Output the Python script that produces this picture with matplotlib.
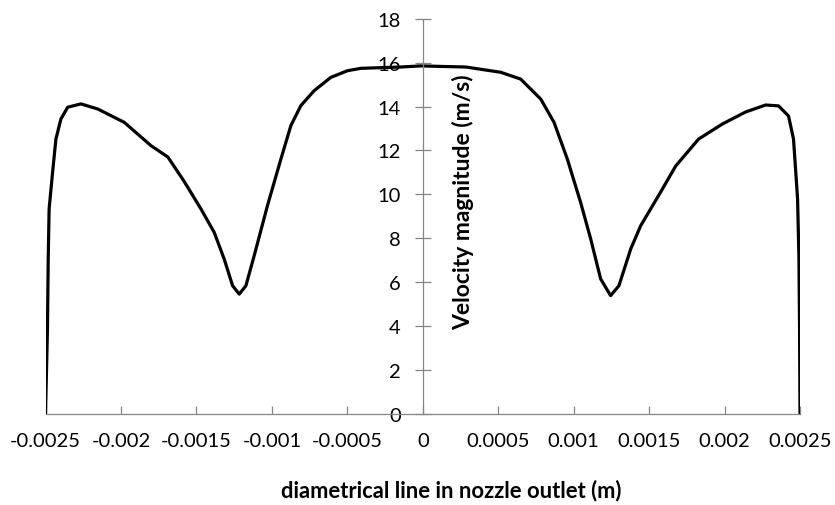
import matplotlib
matplotlib.use("Agg")
import matplotlib.pyplot as plt

# Data
x_m = [-0.0025, -0.002487, -0.002482, -0.002476, -0.002453, -0.002431, -0.002398,
       -0.002353, -0.002265, -0.002154, -0.001978, -0.001801, -0.001689, -0.001583,
       -0.001470, -0.001382, -0.001316, -0.001260, -0.001216, -0.001172, -0.001117,
       -0.001029, -0.000940, -0.000874, -0.000808, -0.000720, -0.000609, -0.000499,
       -0.000411, -0.000146, -0.000013,
       0.000285, 0.000517, 0.000649, 0.000782, 0.000870, 0.000958, 0.001046,
       0.001113, 0.001179, 0.001245, 0.001300, 0.001378, 0.001444, 0.001576,
       0.001676, 0.001828, 0.001987, 0.002139, 0.002272, 0.002358, 0.002424,
       0.002457, 0.002484, 0.002493, 0.002497, 0.0025]
velocity = [0.0, 3.87, 7.06, 9.34, 11.01, 12.52, 13.43,
            13.97, 14.12, 13.89, 13.28, 12.22, 11.70, 10.61,
            9.34, 8.27, 7.06, 5.84, 5.46, 5.84, 7.21,
            9.49, 11.61, 13.13, 14.04, 14.72, 15.33, 15.63,
            15.74, 15.80, 15.85,
            15.80, 15.56, 15.25, 14.34, 13.28, 11.61, 9.64,
            7.97, 6.15, 5.39, 5.84, 7.51, 8.57, 10.10,
            11.29, 12.52, 13.21, 13.75, 14.07, 14.03, 13.57,
            12.52, 9.79, 7.06, 3.87, 0.0]

x_ticks = [-0.0025, -0.002, -0.0015, -0.001, -0.0005, 0, 0.0005, 0.001, 0.0015, 0.002, 0.0025]
x_tick_labels = ["-0.0025", "-0.002", "-0.0015", "-0.001", "-0.0005", "0",
                 "0.0005", "0.001", "0.0015", "0.002", "0.0025"]
y_ticks = [0, 2, 4, 6, 8, 10, 12, 14, 16, 18]

x_label = "diametrical line in nozzle outlet (m)"
y_label = "Velocity magnitude (m/s)"

plt.rcParams['font.family'] = ['Lato', 'DejaVu Sans']

W, H = 835, 506
fig = plt.figure(figsize=(W / 100, H / 100), dpi=100)
ax = fig.add_axes([45.5 / W, 1 - 415 / H, (800 - 45.5) / W, (415 - 19.7) / H])

ax.plot(x_m, velocity, color="black", lw=2.3, solid_capstyle="round", solid_joinstyle="round")

ax.set_xlim(-0.0025, 0.0025)
ax.set_ylim(0, 18)

gray = "#868686"
for s in ["top", "right"]:
    ax.spines[s].set_visible(False)
ax.spines["left"].set_position(("data", 0))
ax.spines["left"].set_color(gray)
ax.spines["bottom"].set_color(gray)
ax.spines["left"].set_linewidth(0.9)
ax.spines["bottom"].set_linewidth(0.9)

ax.set_xticks(x_ticks)
ax.set_xticklabels(x_tick_labels)
ax.set_yticks(y_ticks)
ax.set_yticklabels([str(v) for v in y_ticks])

ax.tick_params(axis="x", direction="in", length=6, width=0.9, color=gray,
               labelsize=14.5, pad=13, labelcolor="black")
ax.tick_params(axis="y", direction="inout", length=11.5, width=0.9, color=gray,
               labelsize=14.5, pad=10, labelcolor="black")

fig.text(463 / W, 1 - 202 / H, y_label, rotation=90, ha="center", va="center",
         fontsize=16.5, fontweight="bold")
fig.text(451 / W, 1 - 491 / H, x_label, ha="center", va="center",
         fontsize=15.8, fontweight="bold")

fig.savefig("out.png", dpi=100)
